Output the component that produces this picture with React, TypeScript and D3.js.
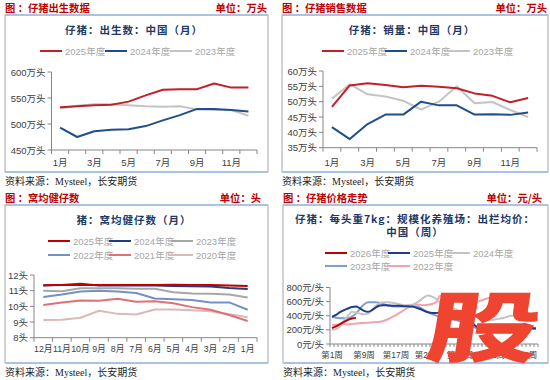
import React from 'react';
import * as d3 from 'd3';

// ---------- DATA ----------
const months = ['1月', '2月', '3月', '4月', '5月', '6月', '7月', '8月', '9月', '10月', '11月', '12月'];

const birth2025 = [532, 534, 536, 537, 543, 555, 566, 567, 567, 578, 570, 570];
const birth2024 = [493, 475, 486, 489, 490, 496, 507, 517, 529, 529, 527, 524];
const birth2023 = [530, 535, 538, 538, 536, 534, 533, 534, 528, 527, 527, 516];
const birthTicks = [450, 500, 550, 600];

const sales2025 = [48.3, 55.3, 56.0, 55.4, 54.7, 55.2, 54.9, 54.4, 52.7, 51.9, 49.8, 51.2];
const sales2024 = [41.7, 37.8, 42.7, 45.8, 45.8, 50.0, 48.8, 48.8, 45.8, 45.9, 45.7, 46.5];
const sales2023 = [51.0, 55.7, 52.4, 51.7, 50.3, 47.4, 50.0, 55.0, 49.5, 49.9, 47.3, 45.0];
const salesTicks = [35, 40, 45, 50, 55, 60];

const litterMonths = ['12月', '11月', '10月', '9月', '8月', '7月', '6月', '5月', '4月', '3月', '2月', '1月'];
const litter2025 = [11.35, 11.36, 11.36, 11.36, 11.36, 11.36, 11.36, 11.38, 11.37, 11.36, 11.33, 11.30];
const litter2024 = [11.33, 11.37, 11.44, 11.33, 11.33, 11.33, 11.33, 11.30, 11.28, 11.27, 11.17, 11.10];
const litter2023 = [11.00, 10.97, 11.15, 11.15, 11.15, 11.12, 11.12, 10.90, 10.82, 10.80, 10.75, 10.56];
const litter2022 = [10.60, 10.75, 10.95, 11.00, 10.95, 10.85, 10.50, 10.45, 10.40, 10.25, 10.25, 9.78];
const litter2021 = [10.08, 10.25, 10.38, 10.35, 10.48, 10.30, 10.32, 10.20, 9.95, 9.78, 9.45, 9.07];
const litter2020 = [9.13, 9.15, 9.27, 9.72, 9.52, 9.48, 9.80, 9.80, 9.75, 9.68, 9.50, 9.30];
const litterTicks = [8, 9, 10, 11, 12];

const weeks = d3.range(1, 53).map((w) => `第${w}周`);
const price2026 = [225, 250, 282, 312, 342, 360, 370];
const price2025 = [385, 412, 450, 480, 502, 525, 530, 505, 470, 456, 480, 520, 545, 550, 546, 542, 540, 540, 536, 535,
  530, 515, 495, 470, 450, 440, 440, 446, 455, 450, 430, 410, 390, 370, 345, 300, 250, 225, 210, 198,
  185, 176, 172, 185, 205, 225, 240, 240, 236, 230, 226, 222];
const price2024 = [200, 210, 250, 330, 400, 455, 445, 430, 420, 430, 480, 540, 580, 590, 590, 585, 575, 560, 550, 550,
  555, 580, 615, 660, 685, 670, 640, 580, 540, 520, 505, 490, 470, 450, 425, 405, 385, 365, 345, 335,
  340, 350, 362, 372, 390, 400, 405, 410, 405, 400, 395, 390];
const price2023 = [385, 372, 366, 365, 366, 390, 430, 500, 560, 590, 592, 590, 580, 562, 546, 536, 530, 530, 534, 536,
  535, 530, 515, 480, 450, 425, 402, 386, 372, 360, 350, 340, 322, 300, 280, 250, 226, 210, 200, 195,
  195, 200, 214, 234, 244, 240, 226, 216, 210, 210, 212, 212];
const price2022 = [268, 274, 277, 278, 280, 285, 290, 295, 298, 302, 305, 310, 316, 330, 350, 380, 410, 445, 480, 515,
  540, 558, 555, 550, 555, 566, 592, 680, 690, 662, 640, 620, 602, 590, 582, 580, 590, 610, 630, 648,
  660, 665, 662, 660, 640, 600, 560, 520, 470, 420, 392, 385];
const priceTicks = [0, 200, 400, 600, 800];

// ---------- STYLE ----------
const CJK = '"Noto Sans CJK SC", sans-serif';
const NUM = '"Liberation Sans", "Noto Sans CJK SC", sans-serif';
const SERIF = '"Liberation Serif", "Noto Sans CJK SC", serif';
const TITLE_C = '#203864';
const HEAD_C = '#c00000';
const AXIS_C = '#868686';
const LABEL_C = '#404040';
const LEG_C = '#a6a6a6';

type Series = { name: string; values: number[]; color: string; width?: number };

function Frame({ x, y, w, h }: { x: number; y: number; w: number; h: number }) {
  return (
    <g>
      <rect x={x} y={y} width={w} height={h} fill="#fff" stroke="#a6a6a6" strokeWidth={1} />
      <line x1={x} x2={x + w} y1={y} y2={y} stroke="#a9c4e2" strokeWidth={2} />
      <line x1={x} x2={x + w} y1={y + h} y2={y + h} stroke="#a9c4e2" strokeWidth={2} />
    </g>
  );
}

function Header({ x1, x2, y, left, right }: { x1: number; x2: number; y: number; left: string; right: string }) {
  return (
    <g fontFamily={CJK} fontWeight="bold" fill={HEAD_C} fontSize={10.3}>
      <text x={x1} y={y} dominantBaseline="central">{left}</text>
      <text x={x2} y={y} dominantBaseline="central" textAnchor="end">{right}</text>
    </g>
  );
}

function Source({ x, y }: { x: number; y: number }) {
  return (
    <text x={x} y={y} fontFamily={SERIF} fontSize={10} fill="#222" dominantBaseline="central">
      资料来源：Mysteel，长安期货
    </text>
  );
}

function Legend({ items, y, xs }: { items: Series[]; y: number; xs: number[] }) {
  return (
    <g fontFamily={NUM} fontSize={9.5} fill={LEG_C}>
      {items.map((s, i) => (
        <g key={s.name}>
          <line x1={xs[i]} x2={xs[i] + 22} y1={y} y2={y} stroke={s.color} strokeWidth={2} />
          <text x={xs[i] + 25} y={y} dominantBaseline="central">{s.name}</text>
        </g>
      ))}
    </g>
  );
}

type PlotProps = {
  cats: string[];
  x0: number;
  x1: number;
  yDomain: [number, number];
  yRange: [number, number];
  ticks: number[];
  unit: string;
  series: Series[];
  labelEvery: number;
  labelY: number;
  labelSize?: number;
  tickLen?: number;
  curve?: d3.CurveFactory;
};

function Plot({ cats, x0, x1, yDomain, yRange, ticks, unit, series, labelEvery, labelY, labelSize, tickLen, curve }: PlotProps) {
  const x = d3.scaleBand<string>().domain(cats).range([x0, x1]).padding(0);
  const y = d3.scaleLinear().domain(yDomain).range(yRange);
  const bw = x.bandwidth();
  const baseY = y(yDomain[0]);
  const line = d3
    .line<number>()
    .x((_, i) => (x(cats[i]) as number) + bw / 2)
    .y((d) => y(d))
    .curve(curve || d3.curveLinear);
  const bounds = cats.map((c) => x(c) as number).concat([x1]);
  const tl = tickLen || 4;
  return (
    <g>
      {/* y axis */}
      <line x1={x0} x2={x0} y1={y(yDomain[1])} y2={baseY} stroke={AXIS_C} strokeWidth={1} />
      {ticks.map((t) => (
        <g key={t}>
          <line x1={x0 - 4} x2={x0} y1={y(t)} y2={y(t)} stroke={AXIS_C} />
          <text x={x0 - 6} y={y(t)} textAnchor="end" dominantBaseline="central" fontFamily={NUM} fontSize={9.5} fill={LABEL_C}>
            {t + unit}
          </text>
        </g>
      ))}
      {/* x axis */}
      <line x1={x0} x2={x1} y1={baseY} y2={baseY} stroke={AXIS_C} strokeWidth={1} />
      {bounds.map((b, i) => (
        <line key={i} x1={b} x2={b} y1={baseY} y2={baseY + tl} stroke={AXIS_C} />
      ))}
      {cats.map((c, i) =>
        i % labelEvery === 0 ? (
          <text key={c} x={(x(c) as number) + bw / 2} y={labelY} textAnchor="middle" dominantBaseline="central"
            fontFamily={NUM} fontSize={labelSize || 9.5} fill={LABEL_C}>
            {c}
          </text>
        ) : null
      )}
      {/* lines */}
      {series.map((s) => (
        <path key={s.name} d={line(s.values) || ''} fill="none" stroke={s.color} strokeWidth={s.width || 2}
          strokeLinejoin="round" />
      ))}
    </g>
  );
}

function Title({ x, y, lines }: { x: number; y: number; lines: string[] }) {
  return (
    <g fontFamily={CJK} fontWeight="bold" fontSize={10.5} fill={TITLE_C} letterSpacing={1}>
      {lines.map((l, i) => (
        <text key={i} x={x} y={y + i * 13.5} textAnchor="middle" dominantBaseline="central">{l}</text>
      ))}
    </g>
  );
}

export default function App() {
  const p1: Series[] = [
    { name: '2025年度', values: birth2025, color: '#c0202a' },
    { name: '2024年度', values: birth2024, color: '#1f4e8c' },
    { name: '2023年度', values: birth2023, color: '#c4c4c4' },
  ];
  const p2: Series[] = [
    { name: '2025年度', values: sales2025, color: '#c0202a' },
    { name: '2024年度', values: sales2024, color: '#1f4e8c' },
    { name: '2023年度', values: sales2023, color: '#c4c4c4' },
  ];
  const p3: Series[] = [
    { name: '2025年度', values: litter2025, color: '#c00000' },
    { name: '2024年度', values: litter2024, color: '#1f3d7a' },
    { name: '2023年度', values: litter2023, color: '#a6a6a6' },
    { name: '2022年度', values: litter2022, color: '#7391c4' },
    { name: '2021年度', values: litter2021, color: '#e07078' },
    { name: '2020年度', values: litter2020, color: '#dcb8b8' },
  ];
  const p4: Series[] = [
    { name: '2026年度', values: price2026, color: '#c00000' },
    { name: '2025年度', values: price2025, color: '#1f3d8a' },
    { name: '2024年度', values: price2024, color: '#c4c4c4' },
    { name: '2023年度', values: price2023, color: '#7f9fd4' },
    { name: '2022年度', values: price2022, color: '#f4a3ad' },
  ];
  const rev = (a: Series[]) => a.slice().reverse();

  return (
    <svg width={550} height={380} style={{ position: 'absolute', left: 0, top: 0, background: '#fff' }}>
      {/* Panel 1 */}
      <Header x1={5} x2={267} y={7} left="图 ：仔猪出生数据" right="单位：万头" />
      <Frame x={5} y={15} w={263} h={157} />
      <Title x={134} y={29} lines={['仔猪：出生数：中国（月）']} />
      <Legend items={p1} y={51} xs={[40, 105, 170]} />
      <Plot cats={months} x0={51.5} x1={257} yDomain={[450, 600]} yRange={[150, 72]} ticks={birthTicks}
        unit="万头" series={rev(p1)} labelEvery={2} labelY={162} />
      <Source x={5} y={181} />

      {/* Panel 2 */}
      <Header x1={282} x2={547} y={7} left="图 ：仔猪销售数据" right="单位：万头" />
      <Frame x={282} y={15} w={266} h={157} />
      <Title x={412} y={29} lines={['仔猪：销量：中国（月）']} />
      <Legend items={p2} y={51} xs={[322, 385, 448]} />
      <Plot cats={months} x0={323} x1={537} yDomain={[35, 60]} yRange={[147.7, 71]} ticks={salesTicks}
        unit="万头" series={rev(p2)} labelEvery={2} labelY={162} />
      <Source x={282} y={181} />

      {/* Panel 3 */}
      <Header x1={5} x2={261} y={197} left="图 ：窝均健仔数" right="单位：头" />
      <Frame x={5} y={205} w={263} h={158} />
      <Title x={134} y={219} lines={['猪：窝均健仔数（月）']} />
      <Legend items={p3.slice(0, 3)} y={241} xs={[48, 109, 171]} />
      <Legend items={p3.slice(3)} y={255} xs={[48, 109, 171]} />
      <Plot cats={litterMonths} x0={34} x1={257} yDomain={[8, 12]} yRange={[337.7, 275]} ticks={litterTicks}
        unit="头" series={rev(p3)} labelEvery={1} labelY={349} labelSize={8.8} />
      <Source x={5} y={372} />

      {/* Panel 4 */}
      <Header x1={283} x2={542} y={197} left="图 ：仔猪价格走势" right="单位：元/头" />
      <Frame x={283} y={205} w={265} h={158} />
      <Title x={415} y={218} lines={['仔猪：每头重7kg：规模化养殖场：出栏均价：', '中国（周）']} />
      <Legend items={p4.slice(0, 3)} y={253} xs={[325, 388, 448]} />
      <Legend items={p4.slice(3)} y={266} xs={[325, 388]} />
      <Plot cats={weeks} x0={330} x1={538} yDomain={[0, 800]} yRange={[344, 287.5]} ticks={priceTicks}
        unit="元/头" series={rev(p4)} labelEvery={8} labelY={355} labelSize={8.5} tickLen={3}
        curve={d3.curveMonotoneX} />
      <Source x={283} y={372} />

      {/* watermark */}
      <g transform="translate(485,323) scale(1.2,0.82) skewX(-6)">
        <text x={0} y={0} textAnchor="middle" dominantBaseline="central" fontFamily={CJK} fontWeight={900}
          fontSize={94} fill="#ee4430">股</text>
      </g>
    </svg>
  );
}
